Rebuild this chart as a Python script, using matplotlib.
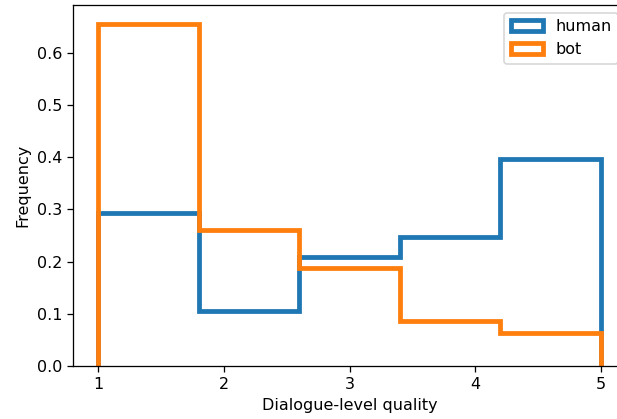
import numpy as np
import matplotlib
matplotlib.use('Agg')
import matplotlib.pyplot as plt

# quality scores binned into 5 equal bins over [1, 5], density-normalised
bin_edges = [1.0, 1.8, 2.6, 3.4, 4.2, 5.0]
human_freq = [0.293, 0.105, 0.209, 0.247, 0.396]
bot_freq = [0.656, 0.261, 0.188, 0.086, 0.062]

centers = (np.array(bin_edges[:-1]) + np.array(bin_edges[1:])) / 2

dpi = 115
fig = plt.figure(figsize=(617 / dpi, 419 / dpi), dpi=dpi)
ax = fig.add_axes([73.3 / 617, 1 - 365.7 / 419, (626 - 73.3) / 617, (365.7 - 5) / 419])

ax.hist(centers, bins=bin_edges, weights=human_freq, histtype='step', linewidth=3, label='human')
ax.hist(centers, bins=bin_edges, weights=bot_freq, histtype='step', linewidth=3, label='bot')

ax.set_xlim(0.8, 5.2)
ax.set_ylim(0, 0.6927)
ax.set_xticks([1, 2, 3, 4, 5])
ax.set_xlabel('Dialogue-level quality')
ax.set_ylabel('Frequency')
ax.legend(loc='upper right')

fig.savefig('out.png', dpi=dpi)
